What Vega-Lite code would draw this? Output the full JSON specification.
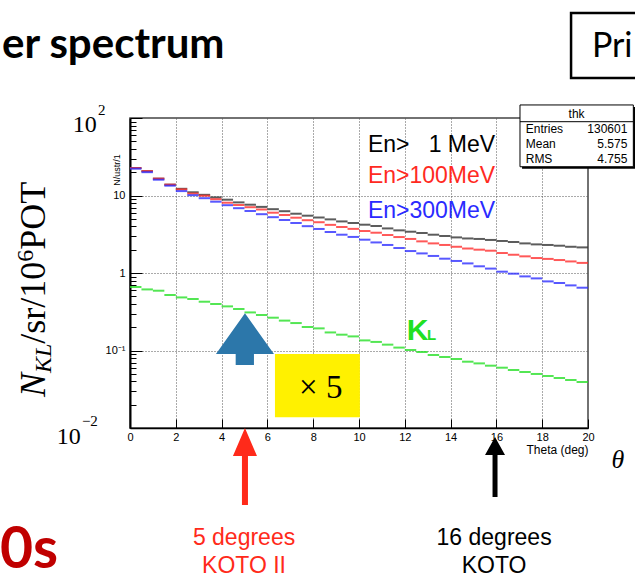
{
  "$schema": "https://vega.github.io/schema/vega-lite/v6.json",
  "autosize": {"type": "none"},
  "padding": {"left": 130, "top": 118, "right": 47, "bottom": 152},
  "width": 458,
  "height": 310,
  "background": "white",
  "config": {
    "view": {"stroke": "#444", "strokeWidth": 1.5},
    "axis": {"labelFont": "Liberation Sans", "titleFont": "Liberation Sans", "labelColor": "#000", "titleColor": "#000"}
  },
  "layer": [
    {
      "data": {"values": [{}]},
      "mark": {"type": "rect", "color": "#fff100"},
      "encoding": {
        "x": {"datum": 6.33, "type": "quantitative"},
        "x2": {"datum": 10.04},
        "y": {"datum": 0.0901, "type": "quantitative"},
        "y2": {"datum": 0.01374}
      }
    },
    {
      "data": {"values": [
        {"a":0,"z":0.5,"k":22.6,"r":22.6,"b":22.2,"g":0.66},
        {"a":0.5,"z":1,"k":20.6,"r":20.6,"b":20.0,"g":0.614},
        {"a":1,"z":1.5,"k":16.5,"r":16.5,"b":16.0,"g":0.591},
        {"a":1.5,"z":2,"k":13.8,"r":13.8,"b":13.4,"g":0.52},
        {"a":2,"z":2.5,"k":12.2,"r":12.0,"b":11.4,"g":0.484},
        {"a":2.5,"z":3,"k":11.0,"r":10.6,"b":10.1,"g":0.462},
        {"a":3,"z":3.5,"k":10.2,"r":9.94,"b":9.23,"g":0.426},
        {"a":3.5,"z":4,"k":9.45,"r":8.96,"b":8.32,"g":0.398},
        {"a":4,"z":4.5,"k":8.83,"r":8.07,"b":7.5,"g":0.371},
        {"a":4.5,"z":5,"k":8.15,"r":7.54,"b":6.86,"g":0.343},
        {"a":5,"z":5.5,"k":7.61,"r":7.06,"b":6.31,"g":0.31},
        {"a":5.5,"z":6,"k":7.13,"r":6.6,"b":5.74,"g":0.287},
        {"a":6,"z":6.5,"k":6.66,"r":6.0,"b":5.25,"g":0.265},
        {"a":6.5,"z":7,"k":6.27,"r":5.6,"b":4.83,"g":0.243},
        {"a":7,"z":7.5,"k":5.82,"r":5.17,"b":4.42,"g":0.226},
        {"a":7.5,"z":8,"k":5.49,"r":4.8,"b":4.02,"g":0.201},
        {"a":8,"z":8.5,"k":5.2,"r":4.52,"b":3.7,"g":0.193},
        {"a":8.5,"z":9,"k":4.92,"r":4.18,"b":3.38,"g":0.171},
        {"a":9,"z":9.5,"k":4.63,"r":3.92,"b":3.12,"g":0.16},
        {"a":9.5,"z":10,"k":4.42,"r":3.71,"b":2.92,"g":0.152},
        {"a":10,"z":10.5,"k":4.2,"r":3.48,"b":2.69,"g":0.135},
        {"a":10.5,"z":11,"k":4.04,"r":3.31,"b":2.48,"g":0.129},
        {"a":11,"z":11.5,"k":3.76,"r":3.09,"b":2.3,"g":0.119},
        {"a":11.5,"z":12,"k":3.55,"r":2.91,"b":2.1,"g":0.109},
        {"a":12,"z":12.5,"k":3.41,"r":2.75,"b":1.92,"g":0.1015},
        {"a":12.5,"z":13,"k":3.28,"r":2.56,"b":1.79,"g":0.0957},
        {"a":13,"z":13.5,"k":3.12,"r":2.41,"b":1.66,"g":0.0875},
        {"a":13.5,"z":14,"k":3.0,"r":2.3,"b":1.53,"g":0.0824},
        {"a":14,"z":14.5,"k":2.88,"r":2.18,"b":1.43,"g":0.0777},
        {"a":14.5,"z":15,"k":2.79,"r":2.07,"b":1.33,"g":0.0717},
        {"a":15,"z":15.5,"k":2.75,"r":2.0,"b":1.22,"g":0.0682},
        {"a":15.5,"z":16,"k":2.67,"r":1.94,"b":1.14,"g":0.0637},
        {"a":16,"z":16.5,"k":2.59,"r":1.81,"b":1.04,"g":0.06},
        {"a":16.5,"z":17,"k":2.51,"r":1.72,"b":0.98,"g":0.056},
        {"a":17,"z":17.5,"k":2.41,"r":1.64,"b":0.904,"g":0.0528},
        {"a":17.5,"z":18,"k":2.34,"r":1.56,"b":0.852,"g":0.0498},
        {"a":18,"z":18.5,"k":2.3,"r":1.52,"b":0.779,"g":0.0469},
        {"a":18.5,"z":19,"k":2.25,"r":1.47,"b":0.743,"g":0.0442},
        {"a":19,"z":19.5,"k":2.18,"r":1.41,"b":0.692,"g":0.0416},
        {"a":19.5,"z":20,"k":2.14,"r":1.35,"b":0.646,"g":0.0392}
      ]},
      "transform": [{"fold": ["k", "r", "b", "g"], "as": ["s", "v"]}],
      "mark": {"type": "rule", "strokeWidth": 2, "opacity": 0.8},
      "encoding": {
        "x": {
          "field": "a", "type": "quantitative",
          "scale": {"domain": [0, 20], "nice": false, "zero": false},
          "axis": {
            "values": [0,0.5,1,1.5,2,2.5,3,3.5,4,4.5,5,5.5,6,6.5,7,7.5,8,8.5,9,9.5,10,10.5,11,11.5,12,12.5,13,13.5,14,14.5,15,15.5,16,16.5,17,17.5,18,18.5,19,19.5,20],
            "labelExpr": "datum.value % 2 === 0 ? datum.label : ''",
            "labelFlush": false,
            "labelOverlap": false,
            "labelFontSize": 11,
            "labelPadding": 12,
            "tickSize": {"condition": {"test": "datum.value % 2 === 0", "value": -9}, "value": -5},
            "tickColor": "#000",
            "domainColor": "#000",
            "domainWidth": 1.5,
            "grid": true,
            "gridDash": [1, 2],
            "gridColor": "#555",
            "gridOpacity": {"condition": {"test": "datum.value % 2 === 0 && datum.value > 0 && datum.value < 20", "value": 1}, "value": 0},
            "title": "Theta (deg)",
            "titleAnchor": "end",
            "titleAlign": "right",
            "titleFontSize": 12,
            "titleFontWeight": "normal",
            "titlePadding": 2
          }
        },
        "x2": {"field": "z"},
        "y": {
          "field": "v", "type": "quantitative",
          "scale": {"type": "log", "domain": [0.01, 100], "nice": false},
          "axis": {
            "values": [0.01,0.02,0.03,0.04,0.05,0.06,0.07,0.08,0.09,0.1,0.2,0.3,0.4,0.5,0.6,0.7,0.8,0.9,1,2,3,4,5,6,7,8,9,10,20,30,40,50,60,70,80,90,100],
            "labelExpr": "datum.value == 10 ? '10' : datum.value == 1 ? '1' : datum.value == 0.1 ? '10⁻¹' : ''",
            "labelOverlap": false,
            "labelFlush": false,
            "labelFontSize": 11,
            "labelPadding": 17,
            "tickSize": {"condition": {"test": "indexof([0.01,0.1,1,10,100], datum.value) >= 0", "value": -12}, "value": -6},
            "tickColor": "#000",
            "domainColor": "#000",
            "domainWidth": 2,
            "grid": true,
            "gridDash": [1, 2],
            "gridColor": "#555",
            "gridOpacity": {"condition": {"test": "indexof([0.1,1,10], datum.value) >= 0", "value": 1}, "value": 0},
            "title": null
          }
        },
        "color": {
          "field": "s", "type": "nominal",
          "scale": {"domain": ["k", "r", "b", "g"], "range": ["#333333", "#ff2e2e", "#2e2eff", "#28e028"]},
          "legend": null
        }
      }
    },
    {
      "data": {"values": [{}]},
      "mark": {"type": "text", "font": "Liberation Sans", "fontSize": 9, "angle": 270, "align": "center", "baseline": "middle", "color": "#000"},
      "encoding": {"x": {"datum": -0.57, "type": "quantitative"}, "y": {"datum": 21.3, "type": "quantitative"}, "text": {"value": "N/ustr/1"}}
    },
    {
      "data": {"values": [{}]},
      "mark": {"type": "text", "font": "Liberation Serif", "fontSize": 33, "align": "center", "baseline": "alphabetic", "color": "#000"},
      "encoding": {"x": {"datum": 8.33, "type": "quantitative"}, "y": {"datum": 0.0244, "type": "quantitative"}, "text": {"value": "× 5"}}
    },
    {
      "data": {"values": [{}]},
      "mark": {"type": "point", "filled": true, "opacity": 1, "color": "#2c77aa", "size": 3364, "shape": "M0,-0.886 L1,0.517 L0.31,0.517 L0.31,0.897 L-0.32,0.897 L-0.32,0.517 L-1,0.517 Z"},
      "encoding": {"x": {"datum": 5.02, "type": "quantitative"}, "y": {"datum": 0.1407, "type": "quantitative"}}
    },
    {
      "data": {"values": [{}]},
      "mark": {"type": "point", "filled": true, "opacity": 1, "color": "#ff2a1a", "size": 5929, "shape": "M0,-1 L0.312,-0.273 L0.078,-0.273 L0.078,1 L-0.078,1 L-0.078,-0.273 L-0.312,-0.273 Z"},
      "encoding": {"x": {"datum": 5.02, "type": "quantitative"}, "y": {"datum": 0.003184, "type": "quantitative"}}
    },
    {
      "data": {"values": [{}]},
      "mark": {"type": "point", "filled": true, "opacity": 1, "color": "#000", "size": 3600, "shape": "M0,-1 L0.333,-0.4 L0.083,-0.4 L0.083,1 L-0.083,1 L-0.083,-0.4 L-0.333,-0.4 Z"},
      "encoding": {"x": {"datum": 15.94, "type": "quantitative"}, "y": {"datum": 0.00314, "type": "quantitative"}}
    },
    {
      "data": {"values": [{}]},
      "mark": {"type": "text", "font": "Liberation Sans", "fontSize": 23, "align": "left", "baseline": "alphabetic", "color": "#000"},
      "encoding": {"x": {"datum": 10.39, "type": "quantitative"}, "y": {"datum": 36.7, "type": "quantitative"}, "text": {"value": "En>\u00a0\u00a0\u00a01 MeV"}}
    },
    {
      "data": {"values": [{}]},
      "mark": {"type": "text", "font": "Liberation Sans", "fontSize": 23, "align": "left", "baseline": "alphabetic", "color": "#ff2a1f"},
      "encoding": {"x": {"datum": 10.39, "type": "quantitative"}, "y": {"datum": 14.37, "type": "quantitative"}, "text": {"value": "En>100MeV"}}
    },
    {
      "data": {"values": [{}]},
      "mark": {"type": "text", "font": "Liberation Sans", "fontSize": 23, "align": "left", "baseline": "alphabetic", "color": "#2a2aff"},
      "encoding": {"x": {"datum": 10.39, "type": "quantitative"}, "y": {"datum": 5.08, "type": "quantitative"}, "text": {"value": "En>300MeV"}}
    },
    {
      "data": {"values": [{}]},
      "mark": {"type": "text", "font": "Liberation Sans", "fontSize": 30, "fontWeight": "bold", "align": "left", "baseline": "alphabetic", "color": "#22e022"},
      "encoding": {"x": {"datum": 12.085, "type": "quantitative"}, "y": {"datum": 0.1366, "type": "quantitative"}, "text": {"value": "K"}}
    },
    {
      "data": {"values": [{}]},
      "mark": {"type": "text", "font": "Liberation Sans", "fontSize": 15, "fontWeight": "bold", "align": "left", "baseline": "alphabetic", "color": "#22e022"},
      "encoding": {"x": {"datum": 12.97, "type": "quantitative"}, "y": {"datum": 0.1357, "type": "quantitative"}, "text": {"value": "L"}}
    },
    {
      "data": {"values": [{}]},
      "mark": {"type": "rect", "color": "#000"},
      "encoding": {"x": {"datum": 17.12, "type": "quantitative"}, "x2": {"datum": 22.07}, "y": {"datum": 138.8, "type": "quantitative"}, "y2": {"datum": 22.1}}
    },
    {
      "data": {"values": [{}]},
      "mark": {"type": "rect", "fill": "#fff", "stroke": "#000", "strokeWidth": 1},
      "encoding": {"x": {"datum": 17.03, "type": "quantitative"}, "x2": {"datum": 21.98}, "y": {"datum": 147.3, "type": "quantitative"}, "y2": {"datum": 23.5}}
    },
    {
      "data": {"values": [{}]},
      "mark": {"type": "rule", "color": "#000", "strokeWidth": 1},
      "encoding": {"x": {"datum": 17.03, "type": "quantitative"}, "x2": {"datum": 21.98}, "y": {"datum": 89.6, "type": "quantitative"}}
    },
    {
      "data": {"values": [{}]},
      "mark": {"type": "text", "font": "Liberation Sans", "fontSize": 12, "align": "center", "baseline": "middle", "color": "#000"},
      "encoding": {"x": {"datum": 19.5, "type": "quantitative"}, "y": {"datum": 112.6, "type": "quantitative"}, "text": {"value": "thk"}}
    },
    {
      "data": {"values": [{}]},
      "mark": {"type": "text", "font": "Liberation Sans", "fontSize": 12, "align": "left", "baseline": "middle", "color": "#000"},
      "encoding": {"x": {"datum": 17.28, "type": "quantitative"}, "y": {"datum": 72.1, "type": "quantitative"}, "text": {"value": "Entries"}}
    },
    {
      "data": {"values": [{}]},
      "mark": {"type": "text", "font": "Liberation Sans", "fontSize": 12, "align": "left", "baseline": "middle", "color": "#000"},
      "encoding": {"x": {"datum": 17.28, "type": "quantitative"}, "y": {"datum": 46.2, "type": "quantitative"}, "text": {"value": "Mean"}}
    },
    {
      "data": {"values": [{}]},
      "mark": {"type": "text", "font": "Liberation Sans", "fontSize": 12, "align": "left", "baseline": "middle", "color": "#000"},
      "encoding": {"x": {"datum": 17.28, "type": "quantitative"}, "y": {"datum": 29.6, "type": "quantitative"}, "text": {"value": "RMS"}}
    },
    {
      "data": {"values": [{}]},
      "mark": {"type": "text", "font": "Liberation Sans", "fontSize": 12, "align": "right", "baseline": "middle", "color": "#000"},
      "encoding": {"x": {"datum": 21.72, "type": "quantitative"}, "y": {"datum": 72.1, "type": "quantitative"}, "text": {"value": "130601"}}
    },
    {
      "data": {"values": [{}]},
      "mark": {"type": "text", "font": "Liberation Sans", "fontSize": 12, "align": "right", "baseline": "middle", "color": "#000"},
      "encoding": {"x": {"datum": 21.72, "type": "quantitative"}, "y": {"datum": 46.2, "type": "quantitative"}, "text": {"value": "5.575"}}
    },
    {
      "data": {"values": [{}]},
      "mark": {"type": "text", "font": "Liberation Sans", "fontSize": 12, "align": "right", "baseline": "middle", "color": "#000"},
      "encoding": {"x": {"datum": 21.72, "type": "quantitative"}, "y": {"datum": 29.6, "type": "quantitative"}, "text": {"value": "4.755"}}
    },
    {
      "data": {"values": [{}]},
      "mark": {"type": "text", "font": "Liberation Serif", "fontSize": 24, "align": "right", "baseline": "alphabetic", "color": "#000"},
      "encoding": {"x": {"datum": -1.45, "type": "quantitative"}, "y": {"datum": 65, "type": "quantitative"}, "text": {"value": "10"}}
    },
    {
      "data": {"values": [{}]},
      "mark": {"type": "text", "font": "Liberation Serif", "fontSize": 15, "align": "left", "baseline": "alphabetic", "color": "#000"},
      "encoding": {"x": {"datum": -1.4, "type": "quantitative"}, "y": {"datum": 110, "type": "quantitative"}, "text": {"value": "2"}}
    },
    {
      "data": {"values": [{}]},
      "mark": {"type": "text", "font": "Liberation Serif", "fontSize": 24, "align": "right", "baseline": "alphabetic", "color": "#000"},
      "encoding": {"x": {"datum": -2.15, "type": "quantitative"}, "y": {"datum": 0.0062, "type": "quantitative"}, "text": {"value": "10"}}
    },
    {
      "data": {"values": [{}]},
      "mark": {"type": "text", "font": "Liberation Serif", "fontSize": 15, "align": "left", "baseline": "alphabetic", "color": "#000"},
      "encoding": {"x": {"datum": -2.1, "type": "quantitative"}, "y": {"datum": 0.0105, "type": "quantitative"}, "text": {"value": "−2"}}
    },
    {
      "data": {"values": [{}]},
      "mark": {"type": "text", "font": "Liberation Serif", "fontSize": 36, "fontStyle": "italic", "angle": 270, "align": "left", "baseline": "alphabetic", "color": "#000"},
      "encoding": {"x": {"datum": -3.71, "type": "quantitative"}, "y": {"datum": 0.02512, "type": "quantitative"}, "text": {"value": "N"}}
    },
    {
      "data": {"values": [{}]},
      "mark": {"type": "text", "font": "Liberation Serif", "fontSize": 24, "fontStyle": "italic", "angle": 270, "align": "left", "baseline": "alphabetic", "color": "#000"},
      "encoding": {"x": {"datum": -3.45, "type": "quantitative"}, "y": {"datum": 0.05129, "type": "quantitative"}, "text": {"value": "KL"}}
    },
    {
      "data": {"values": [{}]},
      "mark": {"type": "text", "font": "Liberation Serif", "fontSize": 36, "angle": 270, "align": "left", "baseline": "alphabetic", "color": "#000"},
      "encoding": {"x": {"datum": -3.71, "type": "quantitative"}, "y": {"datum": 0.1225, "type": "quantitative"}, "text": {"value": "/sr/10"}}
    },
    {
      "data": {"values": [{}]},
      "mark": {"type": "text", "font": "Liberation Serif", "fontSize": 24, "angle": 270, "align": "left", "baseline": "alphabetic", "color": "#000"},
      "encoding": {"x": {"datum": -4.24, "type": "quantitative"}, "y": {"datum": 1.399, "type": "quantitative"}, "text": {"value": "6"}}
    },
    {
      "data": {"values": [{}]},
      "mark": {"type": "text", "font": "Liberation Serif", "fontSize": 36, "angle": 270, "align": "left", "baseline": "alphabetic", "color": "#000"},
      "encoding": {"x": {"datum": -3.71, "type": "quantitative"}, "y": {"datum": 2.0, "type": "quantitative"}, "text": {"value": "POT"}}
    },
    {
      "data": {"values": [{}]},
      "mark": {"type": "text", "font": "Liberation Serif", "fontSize": 26, "fontStyle": "italic", "align": "center", "baseline": "alphabetic", "color": "#000"},
      "encoding": {"x": {"datum": 21.31, "type": "quantitative"}, "y": {"datum": 0.00305, "type": "quantitative"}, "text": {"value": "θ"}}
    },
    {
      "data": {"values": [{}]},
      "mark": {"type": "text", "font": "Liberation Sans", "fontSize": 23, "align": "center", "baseline": "alphabetic", "color": "#ff2a1a"},
      "encoding": {"x": {"datum": 4.98, "type": "quantitative"}, "y": {"datum": 0.000309, "type": "quantitative"}, "text": {"value": "5 degrees"}}
    },
    {
      "data": {"values": [{}]},
      "mark": {"type": "text", "font": "Liberation Sans", "fontSize": 23, "align": "center", "baseline": "alphabetic", "color": "#ff2a1a"},
      "encoding": {"x": {"datum": 4.98, "type": "quantitative"}, "y": {"datum": 0.0001346, "type": "quantitative"}, "text": {"value": "KOTO II"}}
    },
    {
      "data": {"values": [{}]},
      "mark": {"type": "text", "font": "Liberation Sans", "fontSize": 23, "align": "center", "baseline": "alphabetic", "color": "#000"},
      "encoding": {"x": {"datum": 15.9, "type": "quantitative"}, "y": {"datum": 0.000309, "type": "quantitative"}, "text": {"value": "16 degrees"}}
    },
    {
      "data": {"values": [{}]},
      "mark": {"type": "text", "font": "Liberation Sans", "fontSize": 23, "align": "center", "baseline": "alphabetic", "color": "#000"},
      "encoding": {"x": {"datum": 15.9, "type": "quantitative"}, "y": {"datum": 0.0001346, "type": "quantitative"}, "text": {"value": "KOTO"}}
    },
    {
      "data": {"values": [{}]},
      "mark": {"type": "text", "font": "Lato", "fontSize": 42, "fontWeight": "bold", "align": "left", "baseline": "alphabetic", "color": "#000"},
      "encoding": {"x": {"datum": -5.59, "type": "quantitative"}, "y": {"datum": 594, "type": "quantitative"}, "text": {"value": "er spectrum"}}
    },
    {
      "data": {"values": [{}]},
      "mark": {"type": "rect", "fill": "#fff", "stroke": "#000", "strokeWidth": 2.5},
      "encoding": {"x": {"datum": 19.26, "type": "quantitative"}, "x2": {"datum": 22.4}, "y": {"datum": 2265, "type": "quantitative"}, "y2": {"datum": 328}}
    },
    {
      "data": {"values": [{}]},
      "mark": {"type": "text", "font": "Lato", "fontSize": 34, "align": "left", "baseline": "alphabetic", "color": "#000"},
      "encoding": {"x": {"datum": 20.17, "type": "quantitative"}, "y": {"datum": 612, "type": "quantitative"}, "text": {"value": "Pri"}}
    },
    {
      "data": {"values": [{}]},
      "mark": {"type": "text", "font": "Lato", "fontSize": 57, "fontWeight": "bold", "align": "right", "baseline": "alphabetic", "color": "#c00000"},
      "encoding": {"x": {"datum": -3.14, "type": "quantitative"}, "y": {"datum": 0.0001563, "type": "quantitative"}, "text": {"value": "0s"}}
    }
  ]
}
